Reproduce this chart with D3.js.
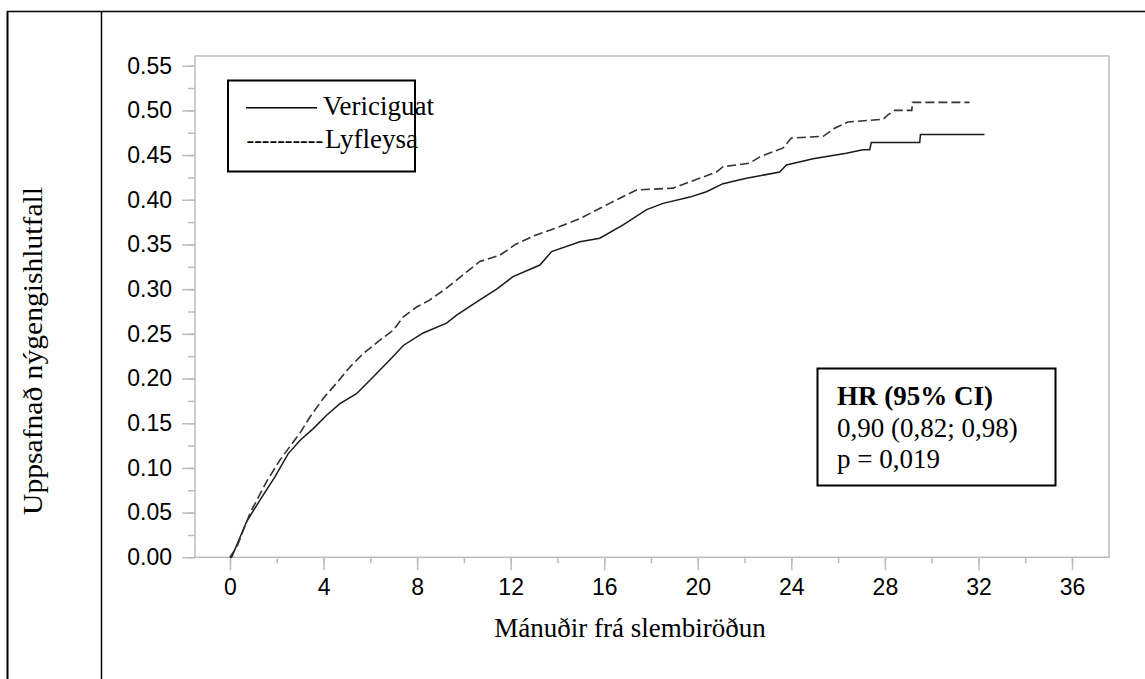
<!DOCTYPE html>
<html>
<head>
<meta charset="utf-8">
<script src="https://cdn.jsdelivr.net/npm/d3@7"></script>
<style>
  body { margin: 0; background: #fff; }
  svg { display: block; }
</style>
</head>
<body>
<svg id="chart" width="1145" height="679"></svg>
<script>
// values
var xTicks = [0, 4, 8, 12, 16, 20, 24, 28, 32, 36];
var yTicks = [0, 0.05, 0.10, 0.15, 0.20, 0.25, 0.30, 0.35, 0.40, 0.45, 0.50, 0.55];

var vericiguatT = [0, 0.07, 0.71, 1.28, 1.92, 2.49, 3.0, 3.56, 4.13, 4.7, 5.41, 5.98, 6.84, 7.41, 8.26, 9.26, 9.69, 10.68, 11.4, 12.1, 13.25, 13.75, 14.96, 15.81, 16.81, 17.81, 18.52, 19.66, 20.37, 21.08, 22.08, 23.5, 23.79, 24.93, 26.35, 27.06, 27.35, 27.42, 29.49, 29.52, 32.26];
var vericiguatV = [0, 0, 0.04, 0.064, 0.09, 0.116, 0.131, 0.144, 0.159, 0.172, 0.183, 0.198, 0.221, 0.237, 0.251, 0.262, 0.271, 0.288, 0.30, 0.314, 0.327, 0.342, 0.353, 0.357, 0.372, 0.389, 0.396, 0.403, 0.409, 0.418, 0.424, 0.431, 0.439, 0.446, 0.452, 0.456, 0.456, 0.464, 0.464, 0.473, 0.473];

var lyfleysaT = [0, 0.3, 0.85, 1.57, 2.14, 2.56, 2.99, 3.42, 3.99, 4.56, 5.13, 5.7, 6.41, 6.98, 7.41, 7.98, 8.55, 9.2, 10.68, 11.54, 12.2, 13.03, 14.1, 14.96, 16.38, 17.38, 18.94, 19.66, 20.8, 21.08, 22.22, 22.65, 23.65, 24.0, 25.36, 25.85, 26.42, 27.92, 28.13, 28.42, 29.15, 29.18, 31.62];
var lyfleysaV = [0, 0.012, 0.049, 0.085, 0.109, 0.124, 0.139, 0.157, 0.178, 0.195, 0.213, 0.228, 0.243, 0.254, 0.269, 0.28, 0.288, 0.30, 0.331, 0.338, 0.35, 0.36, 0.37, 0.379, 0.398, 0.411, 0.413, 0.42, 0.431, 0.437, 0.441, 0.448, 0.458, 0.469, 0.471, 0.48, 0.487, 0.49, 0.495, 0.5, 0.5, 0.509, 0.509];

var svg = d3.select("#chart");
var serif = "'Liberation Serif', 'Times New Roman', serif";
var sans = "'Liberation Sans', Arial, sans-serif";
var gray = "#bdbdbd";

// outer table lines
svg.append("line").attr("x1", 7).attr("x2", 1145).attr("y1", 11.5).attr("y2", 11.5)
  .attr("stroke", "#000").attr("stroke-width", 1.5);
svg.append("line").attr("x1", 7.5).attr("x2", 7.5).attr("y1", 11).attr("y2", 679)
  .attr("stroke", "#000").attr("stroke-width", 2);
svg.append("line").attr("x1", 101.5).attr("x2", 101.5).attr("y1", 11).attr("y2", 679)
  .attr("stroke", "#000").attr("stroke-width", 1.5);

var x = d3.scaleLinear().domain([0, 36]).range([230, 1072]);
var y = d3.scaleLinear().domain([0, 0.55]).range([557.3, 65.7]);

// frame
svg.append("rect").attr("x", 195).attr("y", 56).attr("width", 1109 - 195).attr("height", 557.3 - 56)
  .attr("fill", "none").attr("stroke", gray).attr("stroke-width", 1.5);

// y axis
var yMinor = d3.range(0, 23).map(function (i) { return i * 0.025; });
svg.append("g").attr("transform", "translate(195,0)")
  .call(d3.axisLeft(y).tickValues(yMinor).tickSize(7).tickFormat(""))
  .call(function (g) { g.select(".domain").remove(); g.selectAll("line").attr("stroke", gray).attr("stroke-width", 1.5); });
var yAxis = svg.append("g").attr("transform", "translate(195,0)")
  .call(d3.axisLeft(y).tickValues(yTicks).tickSize(13).tickPadding(10).tickFormat(d3.format(".2f")));
yAxis.select(".domain").remove();
yAxis.selectAll("line").attr("stroke", gray).attr("stroke-width", 1.5);
yAxis.selectAll("text").attr("font-family", sans).attr("font-size", 23).attr("fill", "#000");

// x axis
var xMinor = d3.range(0, 37, 2);
svg.append("g").attr("transform", "translate(0,557.3)")
  .call(d3.axisBottom(x).tickValues(xMinor).tickSize(6).tickFormat(""))
  .call(function (g) { g.select(".domain").remove(); g.selectAll("line").attr("stroke", gray).attr("stroke-width", 1.5); });
var xAxis = svg.append("g").attr("transform", "translate(0,557.3)")
  .call(d3.axisBottom(x).tickValues(xTicks).tickSize(13).tickPadding(8));
xAxis.select(".domain").remove();
xAxis.selectAll("line").attr("stroke", gray).attr("stroke-width", 1.5);
xAxis.selectAll("text").attr("font-family", sans).attr("font-size", 23).attr("fill", "#000");

// curves
var line = d3.line().x(function (d) { return x(d[0]); }).y(function (d) { return y(d[1]); });
svg.append("path").datum(d3.zip(vericiguatT, vericiguatV)).attr("d", line)
  .attr("fill", "none").attr("stroke", "#1a1a1a").attr("stroke-width", 1.5);
svg.append("path").datum(d3.zip(lyfleysaT, lyfleysaV)).attr("d", line)
  .attr("fill", "none").attr("stroke", "#333").attr("stroke-width", 1.6)
  .attr("stroke-dasharray", "9,4");

// legend
svg.append("rect").attr("x", 228).attr("y", 80.5).attr("width", 187).attr("height", 91)
  .attr("fill", "#fff").attr("stroke", "#000").attr("stroke-width", 2);
svg.append("line").attr("x1", 246).attr("x2", 317).attr("y1", 107.7).attr("y2", 107.7)
  .attr("stroke", "#000").attr("stroke-width", 1.6);
svg.append("text").attr("x", 323).attr("y", 115).attr("font-family", serif).attr("font-size", 27)
  .text("Vericiguat");
svg.append("text").attr("x", 246.5).attr("y", 147.5).attr("font-family", serif).attr("font-size", 23)
  .text("----------");
svg.append("text").attr("x", 325).attr("y", 148.3).attr("font-family", serif).attr("font-size", 27)
  .text("Lyfleysa");

// HR box
svg.append("rect").attr("x", 817.5).attr("y", 368.5).attr("width", 238).attr("height", 117)
  .attr("fill", "#fff").attr("stroke", "#000").attr("stroke-width", 2);
var hrLines = ["HR (95% CI)", "0,90 (0,82; 0,98)", "p = 0,019"];
svg.selectAll(".hr").data(hrLines).enter().append("text")
  .attr("x", 837).attr("y", function (d, i) { return 405 + i * 31.7; })
  .attr("font-family", serif).attr("font-size", 27)
  .attr("font-weight", function (d, i) { return i === 0 ? "bold" : "normal"; })
  .text(function (d) { return d; });

// axis titles
svg.append("text").attr("x", 630).attr("y", 637).attr("text-anchor", "middle")
  .attr("font-family", serif).attr("font-size", 27).text("Mánuðir frá slembiröðun");
svg.append("text").attr("transform", "translate(42,351) rotate(-90)").attr("text-anchor", "middle")
  .attr("font-family", serif).attr("font-size", 27)
  .attr("textLength", 328).attr("lengthAdjust", "spacingAndGlyphs")
  .text("Uppsafnað nýgengishlutfall");
</script>
</body>
</html>
